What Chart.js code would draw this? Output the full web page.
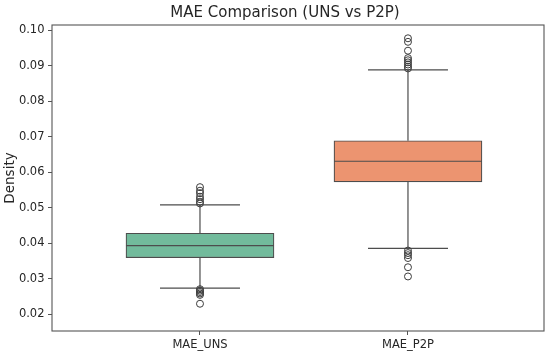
<!DOCTYPE html>
<html>
<head>
<meta charset="utf-8">
<style>
html, body { margin: 0; padding: 0; background: #fff; }
#wrap { width: 550px; height: 358px; }
</style>
</head>
<body>
<div id="wrap"><canvas id="maeChart"></canvas></div>
<script src="https://cdn.jsdelivr.net/npm/chart.js"></script>
<script>
    // values
    const categories = ['MAE_UNS', 'MAE_P2P'];
    const q1 = [0.0359, 0.0573];
    const median = [0.0393, 0.0631];
    const q3 = [0.0428, 0.0689];
    const whiskerLow = [0.0273, 0.0385];
    const whiskerHigh = [0.0508, 0.0889];
    const outliersUNS = [0.0558, 0.0548, 0.0541, 0.0531, 0.0524, 0.0517, 0.0512,
                         0.0270, 0.0266, 0.0262, 0.0258, 0.0254, 0.0229];
    const outliersP2P = [0.0978, 0.0968, 0.0943, 0.0922, 0.0916, 0.0910, 0.0904, 0.0898, 0.0893,
                         0.0379, 0.0372, 0.0366, 0.0358, 0.0332, 0.0306];
    const yTicks = [0.02, 0.03, 0.04, 0.05, 0.06, 0.07, 0.08, 0.09, 0.10];
    const boxColors = ['#72bb9c', '#ec9470'];

    const lineColor = '#4d4d4d';
    const textColor = '#262626';
    Chart.defaults.font.family = "'DejaVu Sans', sans-serif";
    Chart.defaults.color = textColor;

    const boxParts = {
        id: 'boxParts',
        beforeDatasetsDraw(chart) {
            const {ctx, scales: {x, y}} = chart;
            ctx.save();
            ctx.strokeStyle = lineColor;
            ctx.lineWidth = 1.2;
            categories.forEach((c, i) => {
                const cx = x.getPixelForValue(i);
                const capHalf = 40;
                ctx.beginPath();
                ctx.moveTo(cx, y.getPixelForValue(q3[i]));
                ctx.lineTo(cx, y.getPixelForValue(whiskerHigh[i]));
                ctx.moveTo(cx, y.getPixelForValue(q1[i]));
                ctx.lineTo(cx, y.getPixelForValue(whiskerLow[i]));
                ctx.moveTo(cx - capHalf, y.getPixelForValue(whiskerHigh[i]));
                ctx.lineTo(cx + capHalf, y.getPixelForValue(whiskerHigh[i]));
                ctx.moveTo(cx - capHalf, y.getPixelForValue(whiskerLow[i]));
                ctx.lineTo(cx + capHalf, y.getPixelForValue(whiskerLow[i]));
                ctx.stroke();
            });
            ctx.restore();
        },
        afterDatasetsDraw(chart) {
            const {ctx, chartArea: a, scales: {y}} = chart;
            const bars = chart.getDatasetMeta(0).data;
            ctx.save();
            ctx.strokeStyle = lineColor;
            ctx.lineWidth = 1.2;
            bars.forEach((bar, i) => {
                const my = y.getPixelForValue(median[i]);
                ctx.beginPath();
                ctx.moveTo(bar.x - bar.width / 2, my);
                ctx.lineTo(bar.x + bar.width / 2, my);
                ctx.stroke();
            });
            // axes frame
            ctx.strokeStyle = '#555';
            ctx.lineWidth = 1.1;
            ctx.strokeRect(a.left, a.top, a.right - a.left, a.bottom - a.top);
            // title
            ctx.fillStyle = textColor;
            ctx.font = "15px 'DejaVu Sans'";
            ctx.textAlign = 'center';
            ctx.textBaseline = 'middle';
            ctx.fillText('MAE Comparison (UNS vs P2P)', 285, 13);
            ctx.restore();
        }
    };

    const outlierStyle = {
        type: 'scatter',
        pointRadius: 3.5,
        pointBackgroundColor: 'rgba(0,0,0,0)',
        pointBorderColor: '#3c3c3c',
        pointBorderWidth: 1
    };

    const ctx = document.getElementById('maeChart').getContext('2d');
    new Chart(ctx, {
        type: 'bar',
        data: {
            datasets: [
                {
                    label: 'IQR',
                    data: categories.map((c, i) => ({x: i, y: [q1[i], q3[i]]})),
                    backgroundColor: boxColors,
                    borderColor: lineColor,
                    borderWidth: 1.2,
                    borderSkipped: false,
                    barThickness: 148
                },
                {...outlierStyle, label: 'UNS outliers', data: outliersUNS.map(v => ({x: 0, y: v}))},
                {...outlierStyle, label: 'P2P outliers', data: outliersP2P.map(v => ({x: 1, y: v}))}
            ]
        },
        options: {
            responsive: true,
            maintainAspectRatio: false,
            animation: false,
            layout: { padding: { top: 25, right: 6, left: 0, bottom: 0 } },
            plugins: { legend: { display: false }, tooltip: { enabled: false } },
            scales: {
                x: {
                    type: 'linear',
                    offset: false,
                    min: -0.7115,
                    max: 1.654,
                    afterBuildTicks: s => { s.ticks = categories.map((c, i) => ({value: i})); },
                    afterFit: s => { s.height = 27; },
                    ticks: { callback: v => categories[v] ?? '', font: { size: 11.5 }, padding: 3, maxRotation: 0 },
                    grid: { offset: false, drawOnChartArea: false, tickLength: 4, color: '#555' },
                    border: { display: false }
                },
                y: {
                    min: 0.01521,
                    max: 0.10155,
                    afterBuildTicks: s => { s.ticks = yTicks.map(v => ({value: v})); },
                    afterFit: s => { s.width = 52; },
                    ticks: { callback: v => v.toFixed(2), font: { size: 11.5 }, padding: 3.5 },
                    grid: { drawOnChartArea: false, tickLength: 4, color: '#555' },
                    border: { display: false },
                    title: { display: true, text: 'Density', font: { size: 13.5 }, padding: { top: 2, bottom: 0 } }
                }
            }
        },
        plugins: [boxParts]
    });
</script>
</body>
</html>
